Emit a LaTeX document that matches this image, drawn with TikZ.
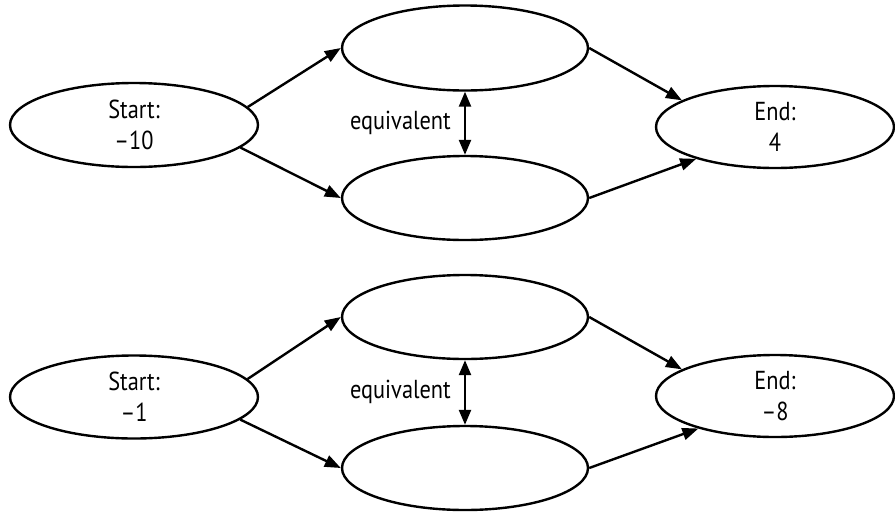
\documentclass[tikz,border=0pt]{standalone}
\usepackage{fontspec}
\setmainfont{PT Sans}[FakeStretch=0.86]
\usetikzlibrary{shapes.geometric,arrows.meta}
\tikzset{
  oval/.style={draw, ellipse, line width=2.4pt, inner sep=0pt, align=center,
    font=\fontsize{26}{31}\selectfont},
  flow/.style={line width=2.4pt, -{Triangle[length=16pt,width=12pt]}},
  equiv/.style={line width=2.4pt, {Triangle[length=15pt,width=12pt]}-{Triangle[length=15pt,width=12pt]}},
  lbl/.style={font=\fontsize{26}{29}\selectfont, anchor=east, inner sep=0pt}
}
\begin{document}
\begin{tikzpicture}[x=1pt,y=-1pt]
\useasboundingbox (0,0) rectangle (895,512);
% Row 1
\node[oval, minimum width=248pt, minimum height=84pt] (S1) at (134,125) {Start:\\–10};
\node[oval, minimum width=246pt, minimum height=85pt] (T1) at (465,48) {};
\node[oval, minimum width=246pt, minimum height=84pt] (B1) at (465,198) {};
\node[oval, minimum width=238pt, minimum height=82pt] (E1) at (775,127) {End:\\4};
\draw[flow] (S1.9) -- (T1.west);
\draw[flow] (S1.-12) -- (B1.west);
\draw[flow] (T1.east) -- (E1.164);
\draw[flow] (B1.east) -- (E1.202);
\draw[equiv] (T1.south) -- (B1.north);
\node[lbl] (Q1) at (451,123) {equivalent};
% Row 2
\node[oval, minimum width=248pt, minimum height=83pt] (S2) at (134,397) {Start:\\–1};
\node[oval, minimum width=246pt, minimum height=84pt] (T2) at (465,317) {};
\node[oval, minimum width=246pt, minimum height=84pt] (B2) at (465,468) {};
\node[oval, minimum width=238pt, minimum height=82pt] (E2) at (775,396) {End:\\–8};
\draw[flow] (S2.9) -- (T2.west);
\draw[flow] (S2.-12) -- (B2.west);
\draw[flow] (T2.east) -- (E2.164);
\draw[flow] (B2.east) -- (E2.203);
\draw[equiv] (T2.south) -- (B2.north);
\node[lbl] (Q2) at (451,392) {equivalent};
\end{tikzpicture}
\end{document}
